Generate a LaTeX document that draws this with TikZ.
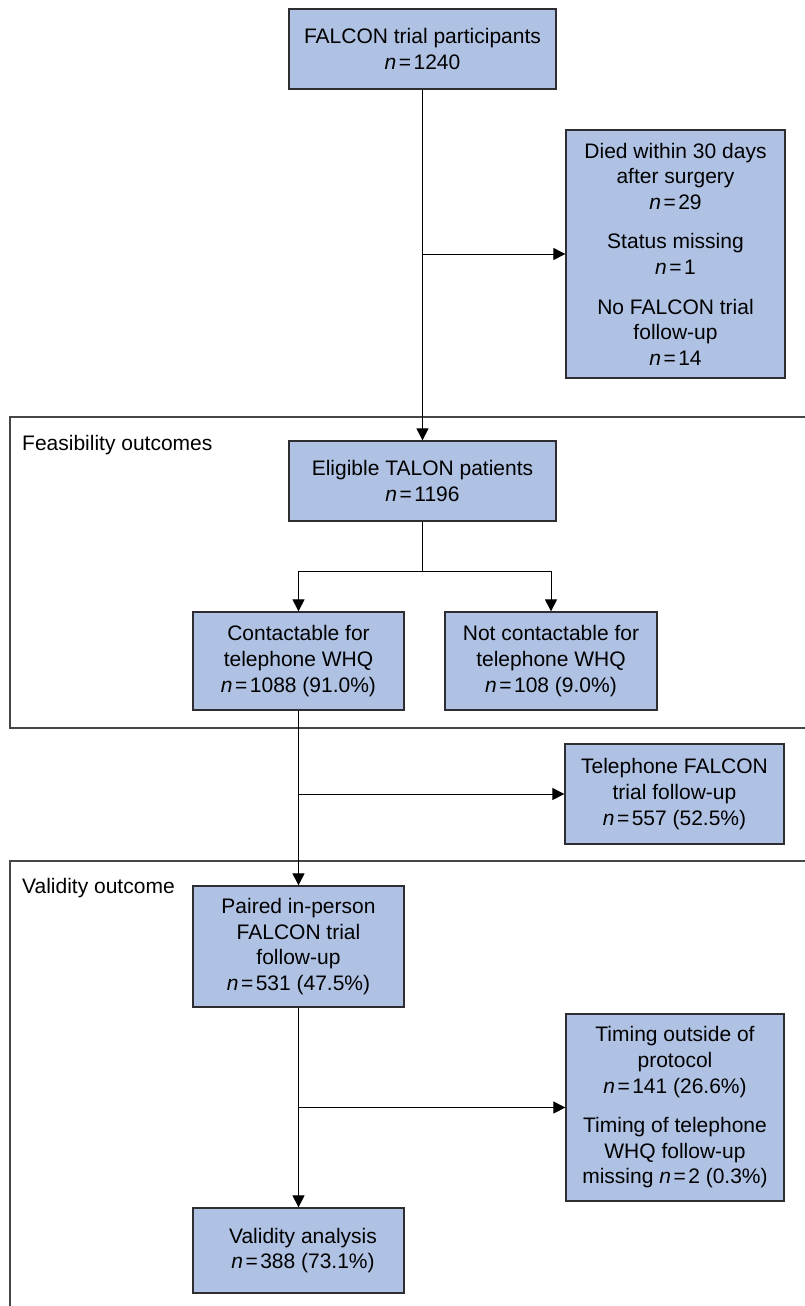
\documentclass[tikz,border=0pt]{standalone}
\usepackage{fontspec}
\setmainfont{Liberation Sans}
\usetikzlibrary{arrows.meta}
\definecolor{boxfill}{RGB}{175,194,228}
\definecolor{boxline}{RGB}{45,45,50}
\definecolor{frameline}{RGB}{70,70,70}
\newcommand{\nn}[1]{\textit{n}\hspace{2.5pt}=\hspace{2.5pt}#1}
\begin{document}
\begin{tikzpicture}[x=1pt,y=-1pt,
  every node/.style={font=\fontsize{21}{25.6}\selectfont},
  fbox/.style={draw=boxline,line width=1.3pt,fill=boxfill,align=center,inner sep=0pt},
  conn/.style={line width=1pt,black},
  arr/.style={conn,-{Triangle[length=12pt,width=12pt]}},
  frame/.style={draw=frameline,line width=1.3pt},
  lbl/.style={anchor=base west,inner sep=0pt}]
\useasboundingbox (0,0) rectangle (805,1306);
\fill[white] (0,0) rectangle (805,1306);

% frames
\draw[frame] (806,417) -- (10,417) -- (10,728) -- (806,728);
\draw[frame] (806,861) -- (10,861) -- (10,1307);
\node[lbl] (feas) at (22,450) {Feasibility outcomes};
\node[lbl] (valo) at (22,893) {Validity outcome};

% boxes
\node[fbox,minimum width=267pt,minimum height=80pt] (top) at (422.5,49)
  {FALCON trial participants\\ \nn{1240}};
\node[fbox,minimum width=219pt,minimum height=248pt] (ex1) at (675.5,254)
  {Died within 30 days\\ after surgery\\ \nn{29}\\[14pt]
   Status missing\\ \nn{1}\\[14pt]
   No FALCON trial\\ follow-up\\ \nn{14}};
\node[fbox,minimum width=267pt,minimum height=80pt] (elig) at (422.5,481)
  {Eligible TALON patients\\ \nn{1196}};
\node[fbox,minimum width=211pt,minimum height=98pt] (cont) at (298.5,661)
  {Contactable for\\ telephone WHQ\\ \nn{1088} (91.0\%)};
\node[fbox,minimum width=212pt,minimum height=98pt] (notc) at (551,661)
  {Not contactable for\\ telephone WHQ\\ \nn{108} (9.0\%)};
\node[fbox,minimum width=219pt,minimum height=100pt] (tel) at (674.5,794)
  {Telephone FALCON\\ trial follow-up\\ \nn{557} (52.5\%)};
\node[fbox,minimum width=211pt,minimum height=121pt] (paired) at (298.5,946.5)
  {Paired in-person\\ FALCON trial\\ follow-up\\ \nn{531} (47.5\%)};
\node[fbox,minimum width=218pt,minimum height=187pt] (ex2) at (675,1107.5)
  {Timing outside of\\ protocol\\ \nn{141} (26.6\%)\\[14pt]
   Timing of telephone\\ WHQ follow-up\\ missing \nn{2} (0.3\%)};
\node[fbox,minimum width=211pt,minimum height=85pt] (valid) at (298.5,1250.5)
  {\hspace{9pt}Validity analysis\\ \hspace{9pt}\nn{388} (73.1\%)};

% connectors
\coordinate (b1) at (422.5,254);
\draw[arr] (top.south) -- (elig.north);
\draw[arr] (b1) -- (ex1.west);
\coordinate (s1) at (422.5,571);
\draw[conn] (elig.south) -- (s1);
\draw[arr] (s1) -| (cont.north);
\draw[arr] (s1) -| (notc.north);
\coordinate (b2) at (298.5,794);
\draw[arr] (cont.south) -- (paired.north);
\draw[arr] (b2) -- (tel.west);
\coordinate (b3) at (298.5,1107.5);
\draw[arr] (paired.south) -- (valid.north);
\draw[arr] (b3) -- (ex2.west);
\end{tikzpicture}
\end{document}
